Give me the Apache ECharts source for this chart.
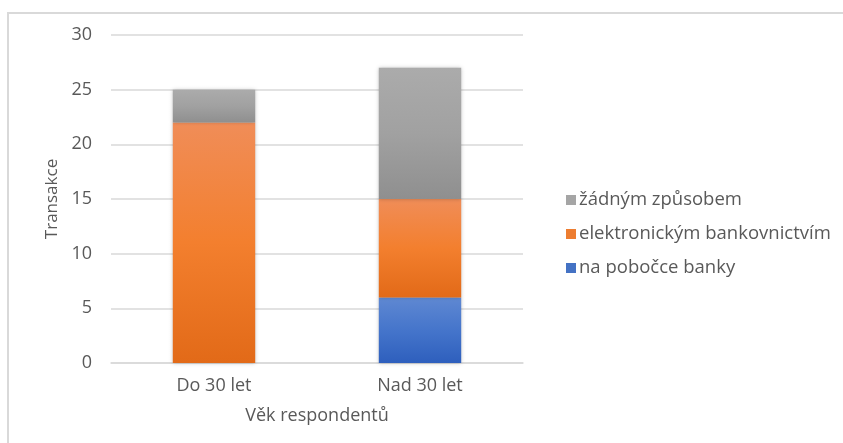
<!DOCTYPE html>
<html>
<head>
<meta charset="utf-8">
<script src="https://cdn.jsdelivr.net/npm/echarts@6/dist/echarts.min.js"></script>
<style>
  html, body { margin: 0; padding: 0; background: #ffffff; }
  #chart { width: 843px; height: 443px; }
</style>
</head>
<body>
<div id="chart"></div>
<script>
// Age groups and the number of respondents per payment channel
const categories = ['Do 30 let', 'Nad 30 let'];
const seriesNames = ['na pobočce banky', 'elektronickým bankovnictvím', 'žádným způsobem'];
const branchValues = [0, 6];
const onlineValues = [22, 9];
const noneValues = [3, 12];
const yTicks = [0, 5, 10, 15, 20, 25, 30];

const FONT = '"Open Sans", "Noto Sans", sans-serif';
const TEXT = '#595959';

function grad(top, mid, bottom) {
  return new echarts.graphic.LinearGradient(0, 0, 0, 1, [
    { offset: 0, color: top },
    { offset: 0.5, color: mid },
    { offset: 1, color: bottom }
  ]);
}

const fills = [
  grad('#5f88d2', '#4575cb', '#2e5fbd'),
  grad('#f08d58', '#f37f2e', '#e26a18'),
  grad('#ababab', '#a1a1a1', '#8f8f8f')
];
const legendColors = ['#4472c4', '#ed7d31', '#a5a5a5'];
const valueSets = [branchValues, onlineValues, noneValues];

const chart = echarts.init(document.getElementById('chart'), null, { renderer: 'canvas' });

chart.setOption({
  animation: false,
  backgroundColor: '#ffffff',
  graphic: [{
    type: 'rect',
    shape: { x: 8, y: 13, width: 900, height: 500 },
    style: { fill: 'none', stroke: '#d9d9d9', lineWidth: 2 },
    silent: true
  }],
  grid: { left: 111, right: 320, top: 35, bottom: 80, containLabel: false },
  legend: {
    orient: 'vertical',
    left: 561,
    top: 183,
    itemGap: 10,
    itemWidth: 10,
    itemHeight: 10,
    icon: 'rect',
    data: seriesNames.slice().reverse().map((n) => ({
      name: n,
      itemStyle: { color: legendColors[seriesNames.indexOf(n)] }
    })),
    textStyle: { fontFamily: FONT, fontSize: 18.5, color: TEXT, lineHeight: 24, padding: [0, 0, 0, -2] }
  },
  xAxis: {
    type: 'category',
    data: categories,
    name: 'Věk respondentů',
    nameLocation: 'middle',
    nameGap: 44,
    nameTextStyle: { fontFamily: FONT, fontSize: 18, color: TEXT },
    axisLine: { show: true, lineStyle: { color: '#d9d9d9', width: 1.5 } },
    axisTick: { show: false },
    axisLabel: { fontFamily: FONT, fontSize: 18, color: TEXT, margin: 14 }
  },
  yAxis: {
    type: 'value',
    min: yTicks[0],
    max: yTicks[yTicks.length - 1],
    interval: yTicks[1] - yTicks[0],
    name: 'Transakce',
    nameLocation: 'middle',
    nameGap: 50,
    nameTextStyle: { fontFamily: FONT, fontSize: 17, color: TEXT },
    axisLine: { show: false },
    axisTick: { show: false },
    axisLabel: { fontFamily: FONT, fontSize: 18, color: TEXT, margin: 19 },
    splitLine: { lineStyle: { color: '#d9d9d9', width: 1.5 } }
  },
  series: seriesNames.map((name, i) => ({
    name: name,
    type: 'bar',
    stack: 'total',
    barWidth: '40%',
    data: valueSets[i],
    itemStyle: {
      color: fills[i],
      shadowColor: 'rgba(0,0,0,0.25)',
      shadowBlur: 4
    }
  }))
});
</script>
</body>
</html>
